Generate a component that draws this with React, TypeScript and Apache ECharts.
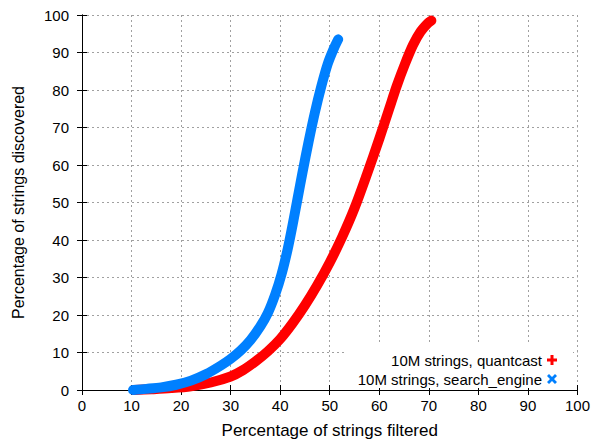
import React, { useEffect, useRef } from "react";
import * as echarts from "echarts";

// Percentage of strings filtered (x) vs percentage discovered (y)
const quantcastX = [10.5, 14, 18, 22, 26, 30, 32.5, 35, 37.5, 40, 42.5, 45, 47.5, 50, 52.5, 55, 57.5, 60, 62, 63.5, 65.2, 66.8, 68.3, 69.8, 70.5];
const quantcastY = [0, 0.2, 0.5, 1, 2, 3.6, 5.3, 7.6, 10.3, 13.6, 17.8, 22.6, 28, 34, 40.8, 48.5, 57.5, 67, 75, 81, 87, 92, 95.5, 97.8, 98.5];

const searchX = [10.3, 13, 16, 19, 22, 25, 28, 30, 32, 34, 36, 37.5, 39, 40.3, 41.5, 42.5, 43.5, 44.5, 45.7, 47, 48.3, 49.6, 50.8, 51.7];
const searchY = [0, 0.3, 0.7, 1.4, 2.5, 4.2, 6.5, 8.3, 10.5, 13.3, 17, 20.5, 25.5, 31, 37.5, 44, 51, 58, 66, 74, 81, 87, 91, 93.5];

const seriesNames = ["10M strings, quantcast", "10M strings, search_engine"];
const xTitle = "Percentage of strings filtered";
const yTitle = "Percentage of strings discovered";

const RED = "#ff0000";
const BLUE = "#0080ff";
const FONT = "'Liberation Sans', Arial, Helvetica, sans-serif";

const PLUS = "path://M3.5,0H6.5V3.5H10V6.5H6.5V10H3.5V6.5H0V3.5H3.5Z";
const CROSS = "path://M0,2L2,0L5,3L8,0L10,2L7,5L10,8L8,10L5,7L2,10L0,8L3,5Z";

const zip = (xs: number[], ys: number[]) => xs.map((x, i) => [x, ys[i]]);

export default function App() {
  const ref = useRef<HTMLDivElement>(null);
  useEffect(() => {
    if (!ref.current) return;
    const chart = echarts.init(ref.current, null, { renderer: "svg" });
    const axisCommon = {
      type: "value" as const,
      min: 0,
      max: 100,
      interval: 10,
    };
    const legendBase = {
      orient: "vertical" as const,
      align: "right" as const,
      right: 36,
      itemWidth: 10,
      itemHeight: 10,
      padding: 0,
      selectedMode: false,
      textStyle: { fontFamily: FONT, fontSize: 15, color: "#000", lineHeight: 16 },
    };
    chart.setOption({
      animation: false,
      backgroundColor: "#fff",
      grid: { left: 82, right: 14, top: 15, bottom: 51, containLabel: false },
      xAxis: [
        {
          ...axisCommon,
          position: "bottom",
          name: xTitle,
          nameLocation: "middle",
          nameGap: 32,
          nameTextStyle: { fontFamily: FONT, fontSize: 17, color: "#000" },
          axisLine: { show: true, lineStyle: { color: "#000", width: 1 } },
          axisTick: { show: true, inside: true, length: 5, lineStyle: { color: "#000" } },
          axisLabel: { fontFamily: FONT, fontSize: 15, color: "#000", margin: 8 },
          splitLine: { show: true, lineStyle: { color: "#a0a0a0", type: [2, 3], width: 1 } },
        },
        {
          ...axisCommon,
          position: "top",
          axisLine: { show: true, lineStyle: { color: "#000", width: 1 } },
          axisTick: { show: true, inside: true, length: 5, lineStyle: { color: "#000" } },
          axisLabel: { show: false },
          splitLine: { show: false },
        },
      ],
      yAxis: [
        {
          ...axisCommon,
          position: "left",
          name: yTitle,
          nameLocation: "middle",
          nameGap: 56,
          nameTextStyle: { fontFamily: FONT, fontSize: 16, color: "#000" },
          axisLine: { show: true, lineStyle: { color: "#000", width: 1 } },
          axisTick: { show: true, inside: true, length: 5, lineStyle: { color: "#000" } },
          axisLabel: { fontFamily: FONT, fontSize: 15, color: "#000", margin: 13 },
          splitLine: { show: true, lineStyle: { color: "#a0a0a0", type: [2, 3], width: 1 } },
        },
        {
          ...axisCommon,
          position: "right",
          axisLine: { show: true, lineStyle: { color: "#000", width: 1 } },
          axisTick: { show: true, inside: true, length: 5, lineStyle: { color: "#000" } },
          axisLabel: { show: false },
          splitLine: { show: false },
        },
      ],
      legend: [
        { ...legendBase, top: 352, data: [{ name: seriesNames[0], icon: PLUS }] },
        { ...legendBase, top: 371, data: [{ name: seriesNames[1], icon: CROSS }] },
      ],
      graphic: [
        {
          type: "rect",
          z: 1,
          silent: true,
          shape: { x: 347, y: 345, width: 226, height: 43 },
          style: { fill: "#fff" },
        },
      ],
      series: [
        {
          name: seriesNames[0],
          type: "line",
          xAxisIndex: 0,
          yAxisIndex: 0,
          data: zip(quantcastX, quantcastY),
          smooth: 0.3,
          showSymbol: false,
          symbol: PLUS,
          color: RED,
          lineStyle: { color: RED, width: 10, cap: "round", join: "round" },
          z: 3,
        },
        {
          name: seriesNames[1],
          type: "line",
          xAxisIndex: 0,
          yAxisIndex: 0,
          data: zip(searchX, searchY),
          smooth: 0.3,
          showSymbol: false,
          symbol: CROSS,
          color: BLUE,
          lineStyle: { color: BLUE, width: 10, cap: "round", join: "round" },
          z: 4,
        },
      ],
    });
    return () => chart.dispose();
  }, []);
  return (
    <div
      ref={ref}
      style={{ position: "fixed", left: 0, top: 0, width: 593, height: 444 }}
    />
  );
}
